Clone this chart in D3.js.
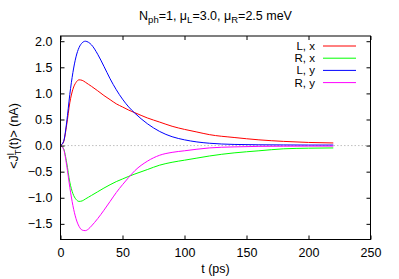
<!DOCTYPE html>
<html>
<head>
<meta charset="utf-8">
<script src="https://cdn.jsdelivr.net/npm/d3@7"></script>
<style>
  body { margin: 0; background: #fff; }
  text { font-family: "Liberation Sans", Arial, sans-serif; fill: #000; }
</style>
</head>
<body>
<div id="chart"></div>
<script>
// time points (ps)
var tVals = [0, 2.5, 5, 7.5, 10, 12.5, 15, 17.5, 20, 22.5, 25, 30, 35, 40, 45, 50, 55, 60, 70, 80, 90, 100, 110, 120, 140, 160, 180, 200, 220];

// currents (nA)
var lx = [0, 0.07, 0.4, 0.82, 1.08, 1.21, 1.26, 1.25, 1.215, 1.175, 1.135, 1.05, 0.96, 0.88, 0.8, 0.74, 0.68, 0.63, 0.53, 0.45, 0.37, 0.31, 0.26, 0.21, 0.155, 0.11, 0.08, 0.06, 0.05];
var rx = [0, -0.06, -0.33, -0.7, -0.92, -1.03, -1.07, -1.06, -1.025, -0.99, -0.955, -0.885, -0.815, -0.75, -0.69, -0.64, -0.59, -0.545, -0.46, -0.375, -0.32, -0.28, -0.24, -0.2, -0.14, -0.1, -0.062, -0.05, -0.045];
var ly = [0, 0.08, 0.45, 0.98, 1.4, 1.7, 1.88, 1.97, 2.0, 1.98, 1.93, 1.75, 1.52, 1.28, 1.07, 0.89, 0.74, 0.62, 0.42, 0.27, 0.17, 0.11, 0.07, 0.045, 0.022, 0.015, 0.012, 0.01, 0.01];
var ry = [0, -0.07, -0.38, -0.8, -1.15, -1.4, -1.55, -1.62, -1.63, -1.6, -1.54, -1.4, -1.24, -1.07, -0.9, -0.75, -0.61, -0.48, -0.3, -0.185, -0.13, -0.1, -0.07, -0.045, -0.025, -0.015, -0.012, -0.01, -0.01];

var seriesNames = ["L, x", "R, x", "L, y", "R, y"];
var seriesColors = ["#ff0000", "#00ff00", "#0000ff", "#ff00ff"];
var seriesVals = [lx, rx, ly, ry];

var xTicks = [0, 50, 100, 150, 200, 250];
var yTicks = [-1.5, -1.0, -0.5, 0.0, 0.5, 1.0, 1.5, 2.0];

var width = 399, height = 279;
var plotLeft = 60.5, plotRight = 370.5, plotTop = 36, plotBottom = 239.5;

var svg = d3.select("#chart").append("svg")
    .attr("width", width)
    .attr("height", height);

var x = d3.scaleLinear().domain([0, 250]).range([plotLeft, plotRight]);
var y = d3.scaleLinear().domain([-1.8, 2.1]).range([plotBottom, plotTop]);

// zero line
svg.append("line")
    .attr("x1", plotLeft).attr("x2", plotRight)
    .attr("y1", y(0)).attr("y2", y(0))
    .attr("stroke", "#b0b0b0").attr("stroke-width", 0.8)
    .attr("stroke-dasharray", "1.5,2");

// curves
var line = d3.line()
    .x(function(d) { return x(d[0]); })
    .y(function(d) { return y(d[1]); })
    .curve(d3.curveMonotoneX);

seriesVals.forEach(function(vals, k) {
    var pts = tVals.map(function(t, i) { return [t, vals[i]]; });
    svg.append("path")
        .datum(pts)
        .attr("d", line)
        .attr("fill", "none")
        .attr("stroke", seriesColors[k])
        .attr("stroke-width", 1);
});

// axes: inward ticks, mirrored on top/right
svg.append("g")
    .attr("transform", "translate(0," + plotBottom + ")")
    .call(d3.axisBottom(x).tickValues(xTicks).tickSizeInner(-4).tickSizeOuter(0).tickPadding(9).tickFormat(d3.format("d")))
    .call(function(g) { g.select(".domain").remove(); });
svg.append("g")
    .attr("transform", "translate(0," + plotTop + ")")
    .call(d3.axisTop(x).tickValues(xTicks).tickSizeInner(-4).tickSizeOuter(0).tickFormat(""))
    .call(function(g) { g.select(".domain").remove(); });
svg.append("g")
    .attr("transform", "translate(" + plotLeft + ",0)")
    .call(d3.axisLeft(y).tickValues(yTicks).tickSizeInner(-4).tickSizeOuter(0).tickPadding(8).tickFormat(d3.format(".1f")))
    .call(function(g) { g.select(".domain").remove(); });
svg.append("g")
    .attr("transform", "translate(" + plotRight + ",0)")
    .call(d3.axisRight(y).tickValues(yTicks).tickSizeInner(-4).tickSizeOuter(0).tickFormat(""))
    .call(function(g) { g.select(".domain").remove(); });

svg.selectAll(".tick text")
    .style("font-family", "'Liberation Sans', Arial, sans-serif")
    .style("font-size", "12.5px");
svg.selectAll(".tick line").attr("stroke", "#000");

// frame
svg.append("rect")
    .attr("x", plotLeft).attr("y", plotTop)
    .attr("width", plotRight - plotLeft).attr("height", plotBottom - plotTop)
    .attr("fill", "none").attr("stroke", "#000").attr("stroke-width", 1);

// legend
var legend = svg.append("g");
seriesNames.forEach(function(name, k) {
    var ly0 = 46 + k * 12.2;
    legend.append("text")
        .attr("x", 315).attr("y", ly0 + 4)
        .attr("text-anchor", "end")
        .style("font-size", "11.5px")
        .text(name);
    legend.append("line")
        .attr("x1", 323).attr("x2", 356)
        .attr("y1", ly0).attr("y2", ly0)
        .attr("stroke", seriesColors[k]).attr("stroke-width", 1);
});

// title
var title = svg.append("text")
    .attr("x", 215.5).attr("y", 20)
    .attr("text-anchor", "middle")
    .style("font-size", "12.5px");
title.append("tspan").text("N");
title.append("tspan").attr("dy", 3).style("font-size", "9.5px").text("ph");
title.append("tspan").attr("dy", -3).text("=1, \u03bc");
title.append("tspan").attr("dy", 3).style("font-size", "9.5px").text("L");
title.append("tspan").attr("dy", -3).text("=3.0, \u03bc");
title.append("tspan").attr("dy", 3).style("font-size", "9.5px").text("R");
title.append("tspan").attr("dy", -3).text("=2.5 meV");

// x label
svg.append("text")
    .attr("x", 215.5).attr("y", 273)
    .attr("text-anchor", "middle")
    .style("font-size", "12.5px")
    .text("t (ps)");

// y label
var ylab = svg.append("text")
    .attr("transform", "translate(18,136) rotate(-90)")
    .attr("text-anchor", "middle")
    .style("font-size", "12.5px");
ylab.append("tspan").text("<J");
ylab.append("tspan").attr("dy", -4).style("font-size", "9.5px").text("l");
ylab.append("tspan").attr("dx", -2).attr("dy", 7).style("font-size", "9.5px").text("T");
ylab.append("tspan").attr("dy", -3).text("(t)> (nA)");
</script>
</body>
</html>
